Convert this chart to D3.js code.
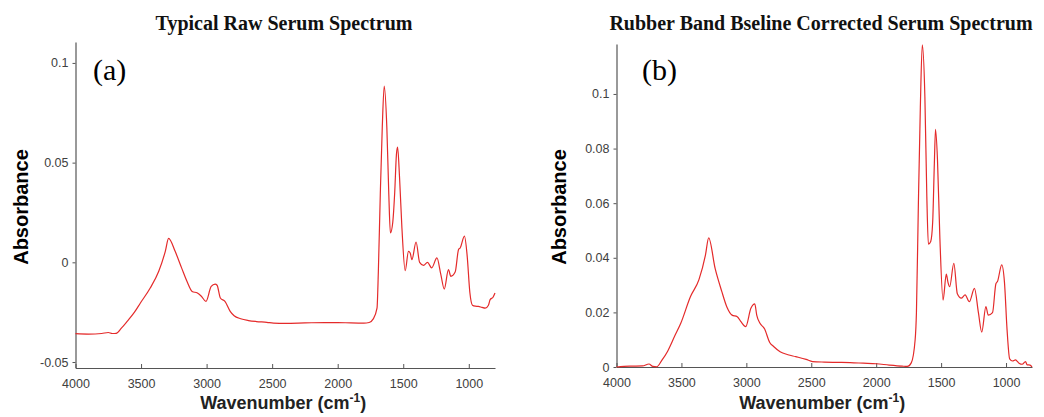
<!DOCTYPE html>
<html>
<head>
<meta charset="utf-8">
<script src="https://cdn.jsdelivr.net/npm/d3@7/dist/d3.min.js"></script>
<style>
  html, body { margin: 0; padding: 0; background: #fff; }
  svg { display: block; }
</style>
</head>
<body>
<svg id="chart" width="1044" height="417"></svg>
<script>
// Wavenumbers (cm^-1), shared by both spectra
const wavenumbers = [4000, 3900, 3800, 3750, 3720, 3690, 3650, 3606, 3550, 3505, 3430, 3365, 3315, 3290, 3240, 3190, 3150, 3110, 3070, 3040, 3005, 2965, 2935, 2920, 2895, 2860, 2820, 2790, 2740, 2680, 2620, 2540, 2490, 2400, 2300, 2200, 2100, 2000, 1900, 1800, 1760, 1730, 1700, 1690, 1675, 1660, 1645, 1625, 1610, 1598, 1580, 1565, 1552, 1543, 1528, 1510, 1485, 1460, 1447, 1434, 1402, 1375, 1345, 1315, 1283, 1243, 1213, 1187, 1155, 1137, 1104, 1078, 1066, 1033, 1012, 992, 972, 950, 927, 900, 875, 850, 837, 815, 800];

// (a) Typical raw serum spectrum
const rawAbsorbance = [-0.0358, -0.0360, -0.0357, -0.0352, -0.0357, -0.0356, -0.0330, -0.0296, -0.0250, -0.0204, -0.0129, -0.0045, 0.0055, 0.0120, 0.0055, -0.0029, -0.0095, -0.0146, -0.0154, -0.0170, -0.0196, -0.0121, -0.0109, -0.0115, -0.0179, -0.0196, -0.0246, -0.0268, -0.0283, -0.0292, -0.0297, -0.0301, -0.0305, -0.0306, -0.0305, -0.0303, -0.0302, -0.0302, -0.0304, -0.0305, -0.0302, -0.0285, -0.0230, -0.0050, 0.0340, 0.0675, 0.0884, 0.0675, 0.0340, 0.0147, 0.0200, 0.0350, 0.0540, 0.0578, 0.0424, 0.0172, -0.0042, 0.0055, 0.0047, 0.0013, 0.0102, 0.0000, -0.0015, 0.0000, -0.0028, 0.0022, -0.0062, -0.0134, -0.0037, -0.0070, -0.0049, 0.0064, 0.0072, 0.0131, 0.0030, -0.0150, -0.0215, -0.0220, -0.0221, -0.0226, -0.0230, -0.0215, -0.0187, -0.0175, -0.0154];

// (b) Rubber band baseline corrected serum spectrum
const correctedAbsorbance = [0.0000, 0.0003, 0.0004, 0.0011, 0.0002, 0.0001, 0.0025, 0.0058, 0.0115, 0.0160, 0.0258, 0.0320, 0.0410, 0.0473, 0.0360, 0.0278, 0.0220, 0.0190, 0.0184, 0.0165, 0.0148, 0.0215, 0.0231, 0.0190, 0.0160, 0.0140, 0.0090, 0.0075, 0.0056, 0.0045, 0.0038, 0.0028, 0.0020, 0.0018, 0.0017, 0.0016, 0.0014, 0.0012, 0.0007, 0.0003, 0.0002, 0.0015, 0.0100, 0.0200, 0.0600, 0.0950, 0.1180, 0.0990, 0.0624, 0.0450, 0.0460, 0.0530, 0.0746, 0.0870, 0.0760, 0.0480, 0.0245, 0.0340, 0.0310, 0.0294, 0.0380, 0.0268, 0.0252, 0.0264, 0.0239, 0.0288, 0.0200, 0.0128, 0.0221, 0.0190, 0.0199, 0.0305, 0.0313, 0.0374, 0.0310, 0.0136, 0.0030, 0.0022, 0.0026, 0.0014, 0.0010, 0.0020, 0.0008, 0.0007, 0.0000];

const xTicks = [4000, 3500, 3000, 2500, 2000, 1500, 1000];
const rawYTicks = [-0.05, 0, 0.05, 0.1];
const rawYTickLabels = ["-0.05", "0", "0.05", "0.1"];
const corrYTicks = [0, 0.02, 0.04, 0.06, 0.08, 0.1];
const corrYTickLabels = ["0", "0.02", "0.04", "0.06", "0.08", "0.1"];
const titles = ["Typical Raw Serum Spectrum", "Rubber Band Bseline Corrected Serum Spectrum"];
const panelTags = ["(a)", "(b)"];

const svg = d3.select("#chart");

const panels = [
  { values: rawAbsorbance, yDomain: [-0.053, 0.1105], yTicks: rawYTicks, yLabels: rawYTickLabels,
    left: 75.5, right: 495, top: 42, bottom: 368, title: titles[0], tag: panelTags[0],
    titleX: 284, tagX: 93, ylabX: 28 },
  { values: correctedAbsorbance, yDomain: [0, 0.1183], yTicks: corrYTicks, yLabels: corrYTickLabels,
    left: 616.5, right: 1032, top: 44, bottom: 367, title: titles[1], tag: panelTags[1],
    titleX: 821, tagX: 642, ylabX: 566 }
];

panels.forEach(p => {
  const x = d3.scaleLinear().domain([4000, 800]).range([p.left, p.right]);
  const y = d3.scaleLinear().domain(p.yDomain).range([p.bottom, p.top]);
  const g = svg.append("g");

  // x axis (ticks pointing inward)
  const xa = g.append("g").attr("transform", `translate(0,${p.bottom})`)
    .call(d3.axisBottom(x).tickValues(xTicks).tickFormat(d3.format("d"))
      .tickSizeInner(-4).tickSizeOuter(0).tickPadding(11));
  // y axis
  const ya = g.append("g").attr("transform", `translate(${p.left},0)`)
    .call(d3.axisLeft(y).tickValues(p.yTicks).tickFormat((d, i) => p.yLabels[i])
      .tickSizeInner(3).tickSizeOuter(0).tickPadding(4));

  [xa, ya].forEach(a => {
    a.select(".domain").attr("stroke", "#555").attr("stroke-width", 1.2);
    a.selectAll(".tick line").attr("stroke", "#555");
    a.selectAll(".tick text").attr("fill", "#404040")
      .style("font-family", "'Liberation Sans', Arial, sans-serif").style("font-size", "12.5px");
  });

  // spectrum line
  const line = d3.line()
    .x((d, i) => x(wavenumbers[i]))
    .y(d => y(d))
    .curve(d3.curveMonotoneX);
  g.append("path").datum(p.values)
    .attr("d", line)
    .attr("fill", "none")
    .attr("stroke", "#e42a2a")
    .attr("stroke-width", 1.2);

  // title
  g.append("text").attr("x", p.titleX).attr("y", 30)
    .attr("text-anchor", "middle")
    .style("font-family", "'Liberation Serif', 'Times New Roman', serif")
    .style("font-weight", "bold").style("font-size", "20px")
    .attr("fill", "#111").text(p.title);

  // panel tag
  g.append("text").attr("x", p.tagX).attr("y", 80)
    .style("font-family", "'Liberation Serif', 'Times New Roman', serif")
    .style("font-size", "30px").attr("fill", "#000").text(p.tag);

  // y label
  g.append("text")
    .attr("transform", `translate(${p.ylabX},207) rotate(-90)`)
    .attr("text-anchor", "middle")
    .style("font-family", "'Liberation Sans', Arial, sans-serif")
    .style("font-weight", "bold").style("font-size", "20px")
    .attr("fill", "#000").text("Absorbance");

  // x label
  const xl = g.append("text")
    .attr("x", (p.left + p.right) / 2 - 2).attr("y", 409)
    .attr("text-anchor", "middle")
    .style("font-family", "'Liberation Sans', Arial, sans-serif")
    .style("font-weight", "bold").style("font-size", "18px")
    .attr("fill", "#222");
  xl.append("tspan").text("Wavenumber (cm");
  xl.append("tspan").attr("dy", -7).style("font-size", "12px").text("-1");
  xl.append("tspan").attr("dy", 7).text(")");
});
</script>
</body>
</html>
